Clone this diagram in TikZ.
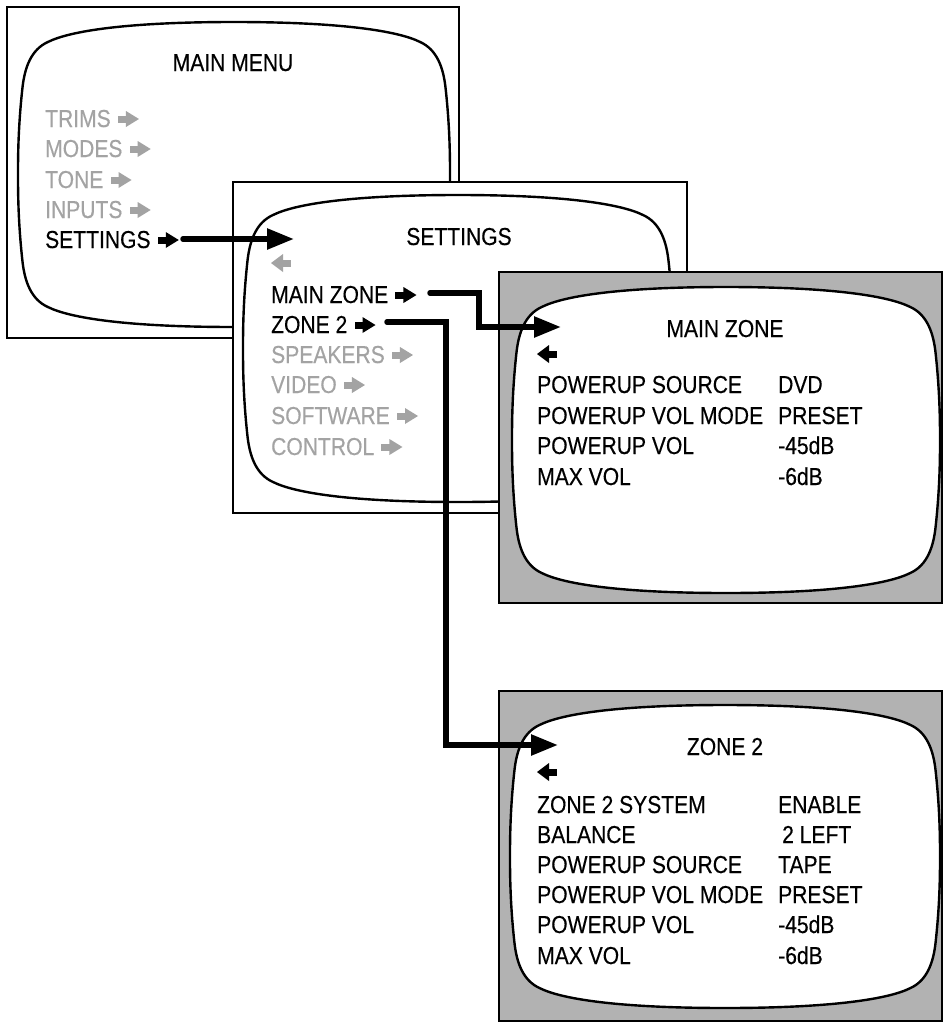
\documentclass[tikz,border=0pt]{standalone}
\usepackage{fontspec}
\setmainfont{Liberation Sans}[FakeStretch=0.86,FakeBold=0.35]
\usetikzlibrary{arrows.meta,calc}
\definecolor{scrgray}{RGB}{178,178,178}
\definecolor{txtgray}{RGB}{163,163,163}
\newcommand\crtscreen[4]{%
  \pgfmathsetmacro\crtW{#3-#1}\pgfmathsetmacro\crtH{#4-#2}%
  \begin{scope}[shift={(#1,#2)},x=\crtW pt,y=-\crtH pt]
    \filldraw[screen] (0.5,0) .. controls (0.75,0) and (0.88,0.03) .. (0.93,0.065)
      .. controls (0.97,0.09) and (0.985,0.15) .. (0.99,0.22)
      .. controls (1.0,0.35) and (1.0,0.45) .. (1,0.5)
      .. controls (1.0,0.55) and (1.0,0.65) .. (0.99,0.78)
      .. controls (0.985,0.85) and (0.97,0.91) .. (0.93,0.935)
      .. controls (0.88,0.97) and (0.75,1) .. (0.5,1)
      .. controls (0.25,1) and (0.12,0.97) .. (0.07,0.935)
      .. controls (0.03,0.91) and (0.015,0.85) .. (0.01,0.78)
      .. controls (0,0.65) and (0,0.55) .. (0,0.5)
      .. controls (0,0.45) and (0,0.35) .. (0.01,0.22)
      .. controls (0.015,0.15) and (0.03,0.09) .. (0.07,0.065)
      .. controls (0.12,0.03) and (0.25,0) .. (0.5,0) -- cycle;
  \end{scope}}
\tikzset{
  frame/.style={draw=black,line width=2pt,fill=white},
  grayframe/.style={frame,fill=scrgray},
  screen/.style={draw=black,line width=2.4pt,fill=white},
  lbl/.style={anchor=base west,inner sep=0pt,font=\fontsize{24.5}{28}\selectfont},
  ttl/.style={lbl,anchor=base},
  dim/.style={lbl,text=txtgray},
  link/.style={line width=5.5pt,line cap=round,line join=miter,-{Triangle[length=27pt,width=20pt]}},
  rarr/.pic={\fill (0,-3.5) rectangle (10,3.5); \fill (8,-8) -- (21,0) -- (8,8) -- cycle;},
  larr/.pic={\fill (0,-3.5) rectangle (-9,3.5); \fill (-8,-9) -- (-20,0) -- (-8,9) -- cycle;}
}
\begin{document}
\begin{tikzpicture}[x=1pt,y=-1pt]
\useasboundingbox (0,0) rectangle (943,1023);
% ---------- MAIN MENU ----------
\draw[frame] (7,7) rectangle (459,338);
\crtscreen{18}{22}{450}{327}
\node[ttl] (mmt) at (233,71) {MAIN MENU};
\node[dim] (trims) at (45,127) {TRIMS};
\node[dim] (modes) at (45,157) {MODES};
\node[dim] (tone) at (45,188) {TONE};
\node[dim] (inputs) at (45,218) {INPUTS};
\node[lbl] (settings) at (45,248) {SETTINGS};
\foreach \n in {trims,modes,tone,inputs}
  \path ($(\n.base east)+(7,-8)$) pic[color=txtgray]{rarr};
\path ($(settings.base east)+(7,-8)$) pic{rarr};
% ---------- SETTINGS ----------
\draw[frame] (233,182) rectangle (687,513);
\crtscreen{243}{195}{673}{502}
\node[ttl] (st) at (459,245) {SETTINGS};
\path (291,263) pic[color=txtgray]{larr};
\node[lbl] (mainzone) at (271,303) {MAIN ZONE};
\node[lbl] (zonetwo) at (271,333) {ZONE 2};
\node[dim] (speakers) at (271,363) {SPEAKERS};
\node[dim] (video) at (271,393) {VIDEO};
\node[dim] (software) at (271,424) {SOFTWARE};
\node[dim] (control) at (271,455) {CONTROL};
\foreach \n in {mainzone,zonetwo}
  \path ($(\n.base east)+(7,-8)$) pic{rarr};
\foreach \n in {speakers,video,software,control}
  \path ($(\n.base east)+(7,-8)$) pic[color=txtgray]{rarr};
% ---------- MAIN ZONE ----------
\draw[grayframe] (499,272) rectangle (942,603);
\crtscreen{512}{287}{940}{593}
\node[ttl] (mzt) at (725,337) {MAIN ZONE};
\path (557,354) pic{larr};
\node[lbl] (mz1) at (537,393) {POWERUP SOURCE};
\node[lbl] (mz2) at (537,424) {POWERUP VOL MODE};
\node[lbl] (mz3) at (537,454) {POWERUP VOL};
\node[lbl] (mz4) at (537,485) {MAX VOL};
\node[lbl] (mv1) at (778,393) {DVD};
\node[lbl] (mv2) at (778,424) {PRESET};
\node[lbl] (mv3) at (778,454) {-45dB};
\node[lbl] (mv4) at (778,485) {-6dB};
% ---------- ZONE 2 ----------
\draw[grayframe] (499,691) rectangle (942,1021);
\crtscreen{510}{705}{940}{1008}
\node[ttl] (zt) at (725,755) {ZONE 2};
\path (557,772) pic{larr};
\node[lbl] (z1) at (537,813) {ZONE 2 SYSTEM};
\node[lbl] (z2) at (537,843) {BALANCE};
\node[lbl] (z3) at (537,873) {POWERUP SOURCE};
\node[lbl] (z4) at (537,903) {POWERUP VOL MODE};
\node[lbl] (z5) at (537,933) {POWERUP VOL};
\node[lbl] (z6) at (537,964) {MAX VOL};
\node[lbl] (zv1) at (778,813) {ENABLE};
\node[lbl] (zv2) at (782,843) {2 LEFT};
\node[lbl] (zv3) at (778,873) {TAPE};
\node[lbl] (zv4) at (778,903) {PRESET};
\node[lbl] (zv5) at (778,933) {-45dB};
\node[lbl] (zv6) at (778,964) {-6dB};
% ---------- connectors ----------
\coordinate (c1s) at (183,239);
\coordinate (c1e) at (294,239);
\coordinate (c2s) at (430,293);
\coordinate (c2b) at (479,293);
\coordinate (c2c) at (479,327);
\coordinate (c2e) at (561,327);
\coordinate (c3s) at (387,322);
\coordinate (c3b) at (446,322);
\coordinate (c3c) at (446,745);
\coordinate (c3e) at (558,745);
\draw[link] (c1s) -- (c1e);
\draw[link] (c2s) -- (c2b) -- (c2c) -- (c2e);
\draw[link] (c3s) -- (c3b) -- (c3c) -- (c3e);
\end{tikzpicture}
\end{document}
